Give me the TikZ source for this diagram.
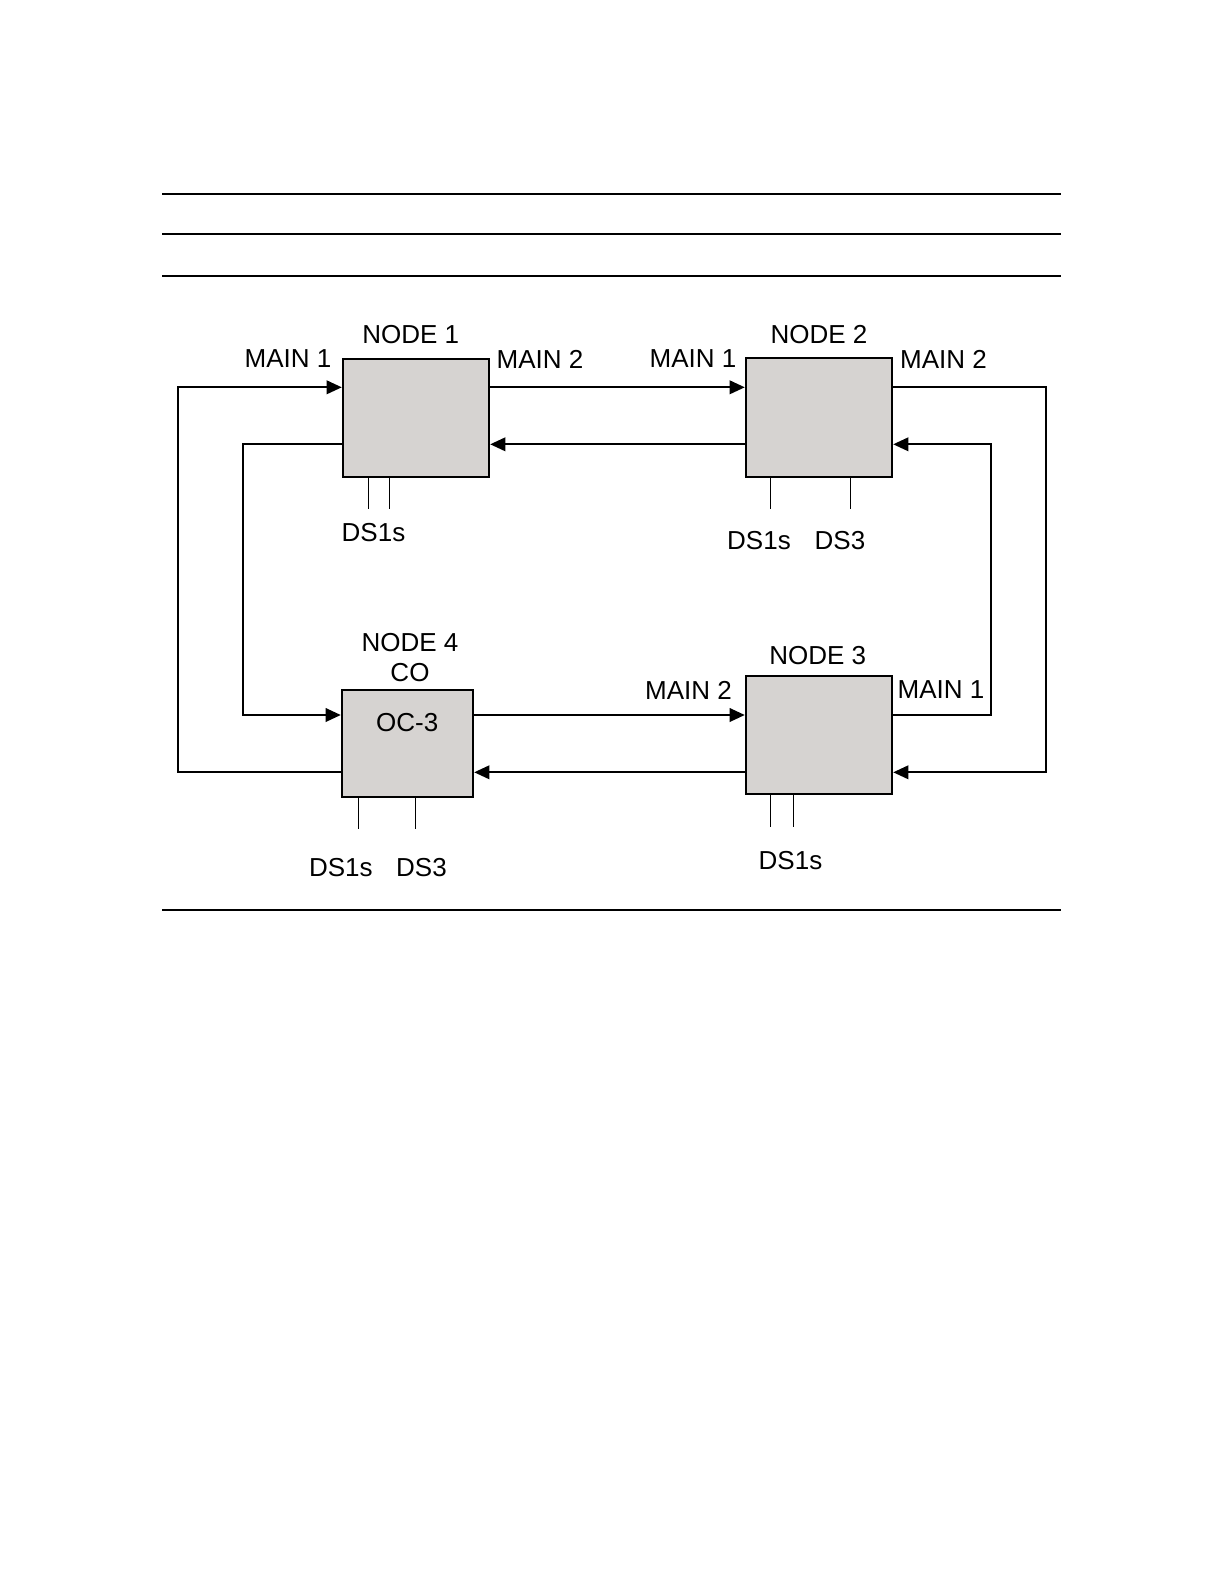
\documentclass[tikz,border=0pt]{standalone}
\usepackage{fontspec}
\setmainfont{Liberation Sans}
\usepackage{xcolor}
\usetikzlibrary{arrows.meta, positioning, calc}
\definecolor{boxgray}{RGB}{214,211,209}

\begin{document}
\begin{tikzpicture}[x=0.25mm, y=-0.25mm, >={Triangle[length=3.8mm, width=3.4mm]},
  box/.style={draw, line width=1.3pt, fill=boxgray, inner sep=0pt},
  conn/.style={line width=1.4pt},
  stub/.style={line width=0.7pt},
  lbl/.style={font=\fontsize{18.5}{21.3}\selectfont, inner sep=0pt, align=center}]
\useasboundingbox (0,0) rectangle (1224,1584);

% rules
\draw[line width=1.6pt] (162,194) -- (1061,194);
\draw[line width=1.6pt] (162,234) -- (1061,234);
\draw[line width=1.6pt] (162,276) -- (1061,276);
\draw[line width=1.6pt] (162,910) -- (1061,910);

% the four nodes
\node[box, minimum width=36.65mm, minimum height=29.6mm] (n1) at (416,417.8) {};
\node[box, minimum width=36.65mm, minimum height=29.6mm] (n2) at (819,417.5) {};
\node[box, minimum width=36.65mm, minimum height=29.5mm] (n3) at (819,735) {};
\node[box, minimum width=32.9mm, minimum height=26.75mm] (n4) at (407.5,743.5) {};

% labels
\node[lbl] (t1) at (410.7,335) {NODE 1};
\node[lbl] (t1a) at (288,359) {MAIN 1};
\node[lbl] (t1b) at (540,359) {MAIN 2};
\node[lbl] (t2) at (819,335) {NODE 2};
\node[lbl] (t2a) at (693,359) {MAIN 1};
\node[lbl] (t2b) at (943.5,359) {MAIN 2};
\node[lbl] (t3) at (817.7,655.7) {NODE 3};
\node[lbl] (t3a) at (688.5,690) {MAIN 2};
\node[lbl] (t3b) at (941,690) {MAIN 1};
\node[lbl] (t4) at (410,658) {NODE 4\\CO};
\node[lbl] (oc) at (407.3,722.7) {OC-3};

% tributaries
\coordinate (d1a) at (368,509);
\coordinate (d1b) at (389.7,509);
\coordinate (d2a) at (770.7,509);
\coordinate (d2b) at (850.7,509);
\coordinate (d3a) at (770.7,827.3);
\coordinate (d3b) at (793.3,827.3);
\coordinate (d4a) at (358.7,829.3);
\coordinate (d4b) at (415.7,829.3);
\draw[stub] (d1a |- n1.south) -- (d1a);
\draw[stub] (d1b |- n1.south) -- (d1b);
\draw[stub] (d2a |- n2.south) -- (d2a);
\draw[stub] (d2b |- n2.south) -- (d2b);
\draw[stub] (d3a |- n3.south) -- (d3a);
\draw[stub] (d3b |- n3.south) -- (d3b);
\draw[stub] (d4a |- n4.south) -- (d4a);
\draw[stub] (d4b |- n4.south) -- (d4b);
\node[lbl] (s1) at (373.5,533) {DS1s};
\node[lbl] (s2a) at (759,541) {DS1s};
\node[lbl] (s2b) at (840,541) {DS3};
\node[lbl] (s3) at (790.5,861) {DS1s};
\node[lbl] (s4a) at (340.8,868) {DS1s};
\node[lbl] (s4b) at (421.5,868) {DS3};

% ring levels
\coordinate (ya) at (0,387.3);
\coordinate (yb) at (0,444.3);
\coordinate (yc) at (0,715);
\coordinate (yd) at (0,772.3);
\coordinate (xo) at (178,580);
\coordinate (xi) at (243,580);
\coordinate (xr) at (991,580);
\coordinate (xrr) at (1046,580);

% outer ring
\draw[conn,->] (n4.west |- yd) -| (xo) |- (n1.west |- ya);
\draw[conn,->] (n1.east |- ya) -- (n2.west |- ya);
\draw[conn,->] (n2.east |- ya) -| (xrr) |- (n3.east |- yd);
\draw[conn,->] (n3.west |- yd) -- (n4.east |- yd);

% inner ring
\draw[conn,->] (n4.east |- yc) -- (n3.west |- yc);
\draw[conn,->] (n3.east |- yc) -| (xr) |- (n2.east |- yb);
\draw[conn,->] (n2.west |- yb) -- (n1.east |- yb);
\draw[conn,->] (n1.west |- yb) -| (xi) |- (n4.west |- yc);
\end{tikzpicture}
\end{document}
